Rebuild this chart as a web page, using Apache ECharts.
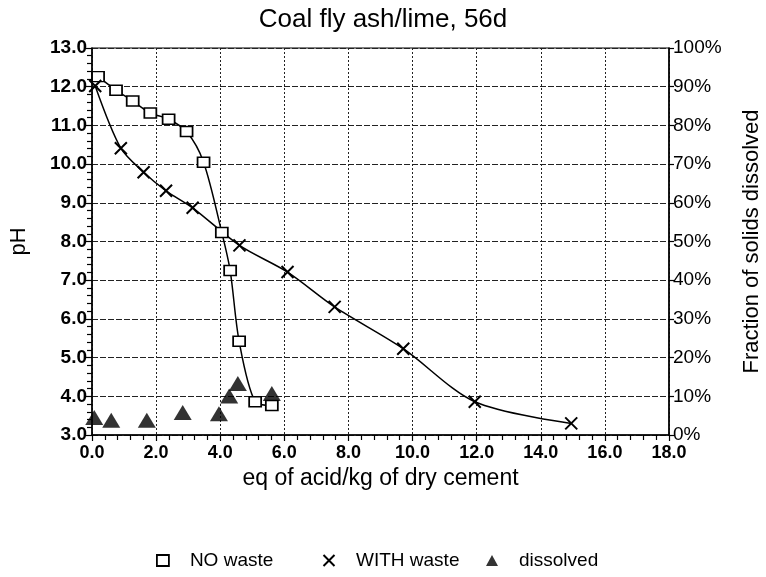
<!DOCTYPE html>
<html>
<head>
<meta charset="utf-8">
<script src="https://cdn.jsdelivr.net/npm/echarts@6/dist/echarts.min.js"></script>
<style>
  html, body { margin: 0; padding: 0; background: #fff; }
  #chart { width: 766px; height: 577px; }
</style>
</head>
<body>
<div id="chart"></div>
<script>
// data
const noWaste = [
    [0.19, 12.26], [0.75, 11.91], [1.27, 11.63], [1.82, 11.32], [2.39, 11.16],
    [2.95, 10.84], [3.48, 10.05], [4.05, 8.23], [4.31, 7.25], [4.59, 5.42],
    [5.09, 3.86], [5.61, 3.76]
];
const withWaste = [
    [0.1, 12.02], [0.9, 10.41], [1.61, 9.79], [2.31, 9.31], [3.14, 8.87],
    [4.6, 7.9], [6.1, 7.21], [7.57, 6.31], [9.71, 5.23], [11.94, 3.86],
    [14.95, 3.30]
];
const dissolved = [
    [0.07, 4.5], [0.6, 3.8], [1.71, 3.8], [2.83, 5.8], [3.96, 5.5],
    [4.28, 10.1], [4.55, 13.3], [5.61, 10.7]
];

const FONT = 'Liberation Sans';
const crossPath = 'path://M0,0L10,10M10,0L0,10';

const chart = echarts.init(document.getElementById('chart'));

// one legend block per item so each can sit where it does in the picture
function legendItem(left, item) {
    return {
        left: left,
        top: 546,
        itemWidth: 12,
        itemHeight: 11,
        textStyle: { fontFamily: FONT, fontSize: 19, color: '#000', padding: [0, 0, 0, 16] },
        data: [item]
    };
}

const option = {
    backgroundColor: '#fff',
    animation: false,
    title: {
        text: 'Coal fly ash/lime, 56d',
        left: 'center',
        top: 2,
        textStyle: { fontFamily: FONT, fontSize: 26, fontWeight: 'normal', color: '#000' }
    },
    legend: [
        legendItem(151, { name: 'NO waste', icon: 'rect', itemStyle: { color: '#fff', borderColor: '#000', borderWidth: 1.8 } }),
        legendItem(316, { name: 'WITH waste', icon: crossPath, itemStyle: { color: 'none', borderColor: '#000', borderWidth: 2 } }),
        legendItem(481, { name: 'dissolved', icon: 'triangle', itemStyle: { color: '#000' } })
    ],
    grid: {
        left: 92, right: 97, top: 48, bottom: 142,
        outerBoundsMode: 'none',
        containLabel: false,
        show: true, borderColor: '#000', borderWidth: 1.2
    },
    xAxis: {
        type: 'value',
        min: 0, max: 18, interval: 2,
        name: 'eq of acid/kg of dry cement',
        nameLocation: 'middle',
        nameGap: 31,
        nameTextStyle: { fontFamily: FONT, fontSize: 23, color: '#000' },
        axisLine: { onZero: false, lineStyle: { color: '#000', width: 1.5 } },
        axisTick: { length: 6, lineStyle: { color: '#000', width: 1.2 } },
        minorTick: { show: true, splitNumber: 5, length: 5, lineStyle: { color: '#000', width: 1.2 } },
        axisLabel: {
            fontFamily: FONT, fontSize: 18, fontWeight: 'bold', color: '#000', margin: 9,
            formatter: v => v.toFixed(1)
        },
        splitLine: { show: true, lineStyle: { color: '#222', type: [2, 2], width: 1 } }
    },
    yAxis: [
        {
            type: 'value',
            min: 3, max: 13, interval: 1,
            name: 'pH',
            nameLocation: 'middle',
            nameGap: 62,
            nameTextStyle: { fontFamily: FONT, fontSize: 22, color: '#000' },
            axisLine: { show: true, lineStyle: { color: '#000', width: 1.5 } },
            axisTick: { length: 6, lineStyle: { color: '#000', width: 1.2 } },
            minorTick: { show: true, splitNumber: 5, length: 5, lineStyle: { color: '#000', width: 1.2 } },
            axisLabel: {
                fontFamily: FONT, fontSize: 19, fontWeight: 'bold', color: '#000', margin: 5,
                formatter: v => v.toFixed(1)
            },
            splitLine: { show: true, lineStyle: { color: '#222', type: [6, 2], width: 1 } }
        },
        {
            type: 'value',
            min: 0, max: 100, interval: 10,
            position: 'right',
            name: 'Fraction of solids dissolved',
            nameLocation: 'middle',
            nameGap: 72,
            nameTextStyle: { fontFamily: FONT, fontSize: 22, color: '#000' },
            axisLine: { show: true, lineStyle: { color: '#000', width: 1.5 } },
            axisTick: { length: 5, lineStyle: { color: '#000', width: 1.2 } },
            axisLabel: {
                fontFamily: FONT, fontSize: 19, color: '#000', margin: 4,
                formatter: '{value}%'
            },
            splitLine: { show: false }
        }
    ],
    series: [
        {
            name: 'NO waste',
            type: 'line',
            data: noWaste,
            smooth: 0.3,
            symbol: 'rect',
            symbolSize: [12, 10],
            itemStyle: { color: '#fff', borderColor: '#000', borderWidth: 1.6 },
            lineStyle: { color: '#000', width: 1.5 }
        },
        {
            name: 'WITH waste',
            type: 'line',
            data: withWaste,
            smooth: 0.3,
            symbol: crossPath,
            symbolSize: 12,
            itemStyle: { color: 'none', borderColor: '#000', borderWidth: 2 },
            lineStyle: { color: '#000', width: 1.5 }
        },
        {
            name: 'dissolved',
            type: 'scatter',
            yAxisIndex: 1,
            data: dissolved,
            symbol: 'triangle',
            symbolSize: [18, 15],
            itemStyle: { color: '#000' }
        }
    ]
};

chart.setOption(option);
</script>
</body>
</html>
